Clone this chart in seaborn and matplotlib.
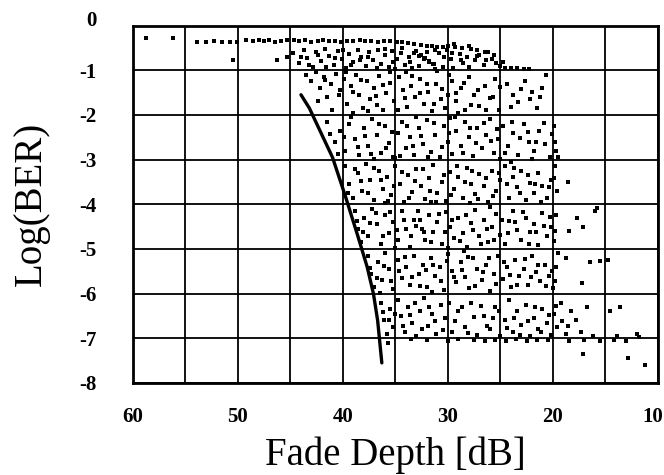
import matplotlib
matplotlib.use("Agg")
import matplotlib.pyplot as plt
import matplotlib.transforms as mtransforms
import seaborn as sns
import pandas as pd

# ---------------- data ----------------
# Fade depth [dB], log10(BER) of the measured points, grouped by band
band_top = [(58.8,-0.27),(56.2,-0.27),(53.9,-0.36),(53.0,-0.37),(52.3,-0.35),(51.5,-0.38),(50.8,-0.36),
            (50.1,-0.37),(49.2,-0.33),(48.6,-0.34),(48.0,-0.32),(47.5,-0.35),(47.0,-0.33),(46.5,-0.36),
            (45.9,-0.34),(45.3,-0.33),(44.7,-0.32),(44.2,-0.35),(43.6,-0.33),(43.0,-0.36),(42.4,-0.34),
            (41.9,-0.32),(41.3,-0.35),(40.8,-0.34),(40.2,-0.36),(39.6,-0.34),(39.0,-0.35),(38.4,-0.33),
            (37.9,-0.35),(37.3,-0.34),(36.7,-0.36),(36.1,-0.35),(35.5,-0.34),(34.9,-0.36),(34.4,-0.38),
            (33.8,-0.40),(33.2,-0.42),(32.6,-0.43),(32.0,-0.45),(31.5,-0.46),(31.0,-0.48),(30.5,-0.47),
            (30.0,-0.45),(29.4,-0.42),(28.7,-0.50),(28.0,-0.46),(27.2,-0.55),(26.5,-0.60)]
band_0_1 = [(50.5,-0.78),(46.3,-0.78),(45.3,-0.70),(44.8,-0.62),(44.2,-0.85),(43.7,-0.55),(43.4,-0.72),
            (42.9,-0.92),(42.6,-0.60),(42.1,-0.80),(41.7,-0.52),(41.3,-0.68),(40.9,-0.88),(40.5,-0.58),
            (40.1,-0.75),(39.7,-0.95),(39.4,-0.63),(39.0,-0.82),(38.6,-0.54),(38.3,-0.70),(37.8,-0.90),
            (37.5,-0.60),(37.1,-0.78),(36.7,-0.55),(36.4,-0.86),(36.0,-0.67),(35.6,-0.93),(35.3,-0.57),
            (34.9,-0.74),(34.5,-0.62),(34.1,-0.88),(33.7,-0.70),(33.0,-0.58),(32.6,-0.66),(32.2,-0.73),
            (31.8,-0.80),(31.4,-0.87),(30.9,-0.62),(30.5,-0.92),(30.1,-0.55),(29.7,-0.75),(29.3,-0.48),
            (28.9,-0.63),(28.6,-0.85),(28.2,-0.70),(27.8,-0.52),(27.4,-0.78),(27.0,-0.66),(26.6,-0.88),
            (26.2,-0.60),(25.8,-0.74),(25.4,-0.83),(25.0,-0.90),(24.6,-0.95),(24.0,-0.94),(23.4,-0.96),
            (22.8,-0.97),(22.3,-0.98),(29.5,-0.95),(31.2,-0.97),(33.4,-0.96),(35.0,-0.98),(33.2,-0.62),
            (32.8,-0.68),(32.3,-0.75),(31.8,-0.82),(31.3,-0.86)]
extra_0_1 = [(44.0,-0.70),(43.2,-0.88),(42.4,-0.65),(41.6,-0.92),(40.8,-0.72),(40.0,-0.55),(39.2,-0.88),
             (38.4,-0.78),(37.6,-0.70),(36.8,-0.95),(36.0,-0.52),(35.2,-0.82),(34.4,-0.50),(33.6,-0.82),
             (32.8,-0.90),(32.0,-0.60),(31.2,-0.55),(30.4,-0.70),(29.6,-0.62),(28.8,-0.78),(28.0,-0.92),
             (27.2,-0.68),(26.4,-0.78),(25.6,-0.65),(24.8,-0.82)]
band_1_2 = [(43.5,-1.10),(43.0,-1.25),(42.6,-1.05),(42.2,-1.40),(41.8,-1.15),(41.5,-1.60),(41.1,-1.30),
            (40.7,-1.08),(40.3,-1.45),(39.9,-1.20),(39.6,-1.75),(39.2,-1.35),(38.8,-1.10),(38.5,-1.55),
            (38.1,-1.85),(37.7,-1.25),(37.4,-1.65),(37.0,-1.40),(36.6,-1.12),(36.2,-1.90),(35.9,-1.50),
            (35.5,-1.28),(35.1,-1.70),(34.7,-1.15),(34.3,-1.45),(33.9,-1.82),(33.5,-1.35),(33.1,-1.60),
            (32.7,-1.20),(32.3,-1.75),(31.9,-1.48),(31.5,-1.92),(31.1,-1.30),(30.7,-1.65),(30.3,-1.85),
            (30.0,-1.55),(29.6,-1.25),(29.2,-1.70),(28.8,-1.40),(28.4,-1.90),(28.0,-1.15),(27.5,-1.55),
            (27.0,-1.80),(26.5,-1.35),(26.0,-1.62),(25.5,-1.20),(25.1,-1.88),(24.4,-1.30),(23.8,-1.55),
            (23.3,-1.72),(22.7,-1.25),(22.0,-1.48),(21.5,-1.85),(21.0,-1.40),(20.7,-1.10),(36.8,-1.78),
            (34.0,-1.05),(31.0,-1.02),(29.0,-1.95),(39.0,-1.95)]
extra_1_2 = [(42.4,-1.70),(41.7,-1.22),(41.0,-1.88),(40.4,-1.55),(39.7,-1.05),(39.0,-1.48),(38.3,-1.22),
             (37.6,-1.92),(36.9,-1.58),(36.2,-1.33),(35.5,-1.05),(34.8,-1.88),(34.1,-1.62),(33.4,-1.12),
             (32.7,-1.52),(32.0,-1.30),(31.3,-1.75),(30.6,-1.42),(29.9,-1.10),(29.2,-1.52),(28.5,-1.28),
             (27.8,-1.78),(27.1,-1.45),(26.4,-1.90),(25.7,-1.60),(25.0,-1.38),(24.0,-1.82),(23.0,-1.42),
             (22.2,-1.65),(21.2,-1.60)]
band_2_3 = [(41.5,-2.15),(40.8,-2.60),(40.3,-2.35),(39.8,-2.80),(39.4,-2.20),(38.9,-2.55),(38.5,-2.90),
            (38.0,-2.30),(37.6,-2.70),(37.2,-2.10),(36.8,-2.45),(36.4,-2.85),(36.0,-2.25),(35.6,-2.62),
            (35.2,-2.95),(34.8,-2.40),(34.4,-2.15),(34.0,-2.75),(33.6,-2.50),(33.2,-2.90),(32.8,-2.30),
            (32.4,-2.65),(32.0,-2.12),(31.6,-2.82),(31.2,-2.45),(30.8,-2.95),(30.4,-2.25),(30.0,-2.60),
            (29.6,-2.88),(29.2,-2.35),(28.8,-2.70),(28.4,-2.15),(28.0,-2.50),(27.6,-2.92),(27.2,-2.30),
            (26.8,-2.75),(26.4,-2.45),(26.0,-2.10),(25.6,-2.85),(25.2,-2.55),(24.8,-2.25),(24.3,-2.70),
            (23.8,-2.40),(23.3,-2.90),(22.8,-2.20),(22.3,-2.60),(21.8,-2.80),(21.3,-2.35),(20.8,-2.65),
            (20.3,-2.95),(19.8,-2.60),(19.7,-2.80),(19.9,-2.25),(19.5,-2.95),(37.0,-2.98),(33.0,-2.05),
            (29.8,-2.08),(25.0,-2.98),(22.0,-2.98),(35.0,-2.97)]
extra_2_3 = [(41.2,-2.42),(40.5,-2.88),(39.9,-2.50),(39.2,-2.05),(38.6,-2.72),(37.9,-2.48),(37.3,-2.88),
             (36.6,-2.20),(35.9,-2.75),(35.3,-2.38),(34.6,-2.92),(33.9,-2.25),(33.3,-2.70),(32.6,-2.48),
             (31.9,-2.95),(31.3,-2.18),(30.6,-2.72),(29.9,-2.40),(29.3,-2.05),(28.6,-2.85),(27.9,-2.30),
             (27.3,-2.62),(26.6,-2.18),(25.9,-2.58),(25.3,-2.32),(24.6,-2.85),(23.9,-2.15),(23.1,-2.52),
             (22.4,-2.38),(21.6,-2.60),(20.9,-2.18),(20.1,-2.42)]
band_3_4 = [(39.8,-3.15),(39.4,-3.55),(39.0,-3.85),(38.6,-3.30),(38.2,-3.70),(37.8,-3.10),(37.4,-3.45),
            (37.0,-3.90),(36.6,-3.25),(36.2,-3.65),(35.8,-3.40),(35.4,-3.80),(35.0,-3.15),(34.6,-3.55),
            (34.2,-3.95),(33.8,-3.35),(33.4,-3.72),(33.0,-3.20),(32.6,-3.60),(32.2,-3.88),(31.8,-3.42),
            (31.4,-3.12),(31.0,-3.75),(30.6,-3.50),(30.2,-3.92),(29.8,-3.28),(29.4,-3.65),(29.0,-3.40),
            (28.6,-3.85),(28.2,-3.18),(27.8,-3.55),(27.4,-3.78),(27.0,-3.32),(26.6,-3.60),(26.2,-3.95),
            (25.8,-3.25),(25.4,-3.70),(25.0,-3.45),(24.6,-3.15),(24.2,-3.85),(23.8,-3.40),(23.4,-3.62),
            (23.0,-3.25),(22.6,-3.90),(22.2,-3.52),(21.8,-3.75),(21.4,-3.30),(21.0,-3.60),(20.6,-3.85),
            (20.2,-3.45),(19.8,-3.15),(19.6,-3.70),(18.6,-3.50),(36.0,-3.98),(31.6,-3.96),(24.0,-3.05),
            (27.9,-3.98)]
extra_3_4 = [(39.5,-3.75),(38.9,-3.22),(38.3,-3.48),(37.6,-3.75),(37.0,-3.18),(36.4,-3.45),(35.7,-3.92),
             (35.1,-3.60),(34.4,-3.28),(33.7,-3.85),(33.1,-3.48),(32.4,-3.22),(31.7,-3.70),(31.1,-3.95),
             (30.4,-3.35),(29.7,-3.80),(29.1,-3.15),(28.4,-3.50),(27.7,-3.25),(27.1,-3.88),(26.4,-3.42),
             (25.7,-3.82),(25.1,-3.30),(24.4,-3.55),(23.7,-3.18),(23.1,-3.75),(22.4,-3.35),(21.7,-3.55),
             (21.1,-3.95),(20.4,-3.62),(19.9,-3.42)]
band_4_5 = [(38.9,-4.15),(38.6,-4.55),(38.3,-4.85),(38.0,-4.30),(37.6,-4.70),(37.2,-4.10),(36.8,-4.45),
            (36.4,-4.90),(36.0,-4.25),(35.6,-4.65),(35.2,-4.40),(34.8,-4.80),(34.4,-4.15),(34.0,-4.55),
            (33.6,-4.95),(33.2,-4.35),(32.9,-4.15),(32.7,-4.35),(32.5,-4.55),(32.2,-4.80),(31.8,-4.25),
            (31.4,-4.62),(31.0,-4.40),(30.6,-4.88),(30.2,-4.18),(29.8,-4.52),(29.4,-4.75),(29.0,-4.30),
            (28.6,-4.65),(28.2,-4.95),(27.8,-4.42),(27.4,-4.12),(27.0,-4.70),(26.6,-4.35),(26.2,-4.85),
            (25.8,-4.50),(25.4,-4.22),(25.0,-4.68),(24.6,-4.90),(24.2,-4.38),(23.8,-4.15),(23.4,-4.58),
            (23.0,-4.80),(22.6,-4.30),(22.2,-4.62),(21.8,-4.45),(21.4,-4.92),(21.0,-4.20),(20.6,-4.70),
            (20.2,-4.50),(19.9,-4.82),(19.7,-4.25),(18.5,-4.60),(17.7,-4.30),(17.1,-4.50),(16.0,-4.15),
            (15.8,-4.08),(35.0,-4.98),(30.0,-4.98),(26.0,-4.06)]
extra_4_5 = [(38.7,-4.38),(38.1,-4.62),(37.4,-4.42),(36.9,-4.20),(36.2,-4.72),(35.5,-4.18),(34.9,-4.58),
             (34.2,-4.35),(33.5,-4.72),(33.0,-4.48),(32.3,-4.62),(31.6,-4.85),(30.9,-4.22),(30.3,-4.62),
             (29.6,-4.35),(28.9,-4.82),(28.3,-4.25),(27.6,-4.58),(26.9,-4.90),(26.3,-4.55),(25.6,-4.80),
             (24.9,-4.35),(24.3,-4.65),(23.6,-4.40),(22.9,-4.18),(22.3,-4.88),(21.6,-4.62),(20.9,-4.48),
             (20.3,-4.28),(19.8,-4.60)]
band_5_6 = [(37.6,-5.15),(37.3,-5.55),(37.0,-5.85),(36.7,-5.30),(36.3,-5.70),(36.0,-5.10),(35.6,-5.45),
            (35.2,-5.90),(34.8,-5.25),(34.4,-5.65),(34.0,-5.40),(33.6,-5.80),(33.2,-5.15),(32.8,-5.55),
            (32.4,-5.35),(32.0,-5.85),(31.6,-5.20),(31.2,-5.60),(30.8,-5.40),(30.4,-5.92),(30.0,-5.12),
            (29.6,-5.50),(29.2,-5.75),(28.8,-5.30),(28.4,-5.62),(28.0,-5.88),(27.6,-5.20),(27.2,-5.45),
            (26.8,-5.70),(26.4,-5.35),(26.0,-5.95),(25.6,-5.55),(25.2,-5.15),(24.8,-5.68),(24.4,-5.40),
            (24.0,-5.85),(23.6,-5.25),(23.2,-5.60),(22.8,-5.45),(22.4,-5.80),(22.0,-5.15),(21.6,-5.52),
            (21.2,-5.72),(20.8,-5.35),(20.4,-5.60),(20.0,-5.88),(19.7,-5.40),(19.5,-5.10),(18.8,-5.20),
            (17.2,-5.77),(16.5,-5.30),(15.5,-5.28),(14.8,-5.25),(31.5,-5.97),(36.5,-5.98),(28.5,-5.05)]
extra_5_6 = [(37.4,-5.42),(36.8,-5.65),(36.1,-5.38),(35.4,-5.72),(34.7,-5.50),(34.1,-5.18),(33.4,-5.62),
             (32.7,-5.82),(32.1,-5.48),(31.4,-5.35),(30.7,-5.72),(30.1,-5.28),(29.4,-5.62),(28.7,-5.48),
             (28.1,-5.18),(27.4,-5.82),(26.7,-5.52),(26.1,-5.20),(25.4,-5.78),(24.7,-5.30),(24.1,-5.58),
             (23.4,-5.80),(22.7,-5.22),(22.1,-5.62),(21.4,-5.35),(20.7,-5.82),(20.1,-5.50),(19.8,-5.72)]
band_6_7 = [(36.4,-6.20),(36.1,-6.60),(35.8,-6.90),(35.5,-6.35),(35.2,-6.75),(34.8,-6.15),(34.5,-6.50),
            (34.1,-6.85),(33.8,-6.30),(33.4,-6.65),(33.0,-6.95),(32.7,-6.40),(32.3,-6.10),(31.9,-6.72),
            (31.5,-6.45),(31.1,-6.90),(30.7,-6.25),(30.3,-6.55),(29.6,-6.85),(29.0,-6.40),(28.4,-6.75),
            (27.8,-6.20),(27.2,-6.92),(26.6,-6.50),(26.0,-6.80),(25.5,-6.30),(25.0,-6.95),(24.6,-6.60),
            (24.2,-6.15),(23.8,-6.85),(23.4,-6.40),(23.0,-6.70),(22.6,-6.25),(22.2,-6.95),(21.8,-6.55),
            (21.4,-6.80),(21.0,-6.35),(20.6,-6.65),(20.2,-6.92),(19.9,-6.45),(19.6,-6.75),(19.2,-6.20),
            (18.8,-6.90),(18.3,-6.40),(17.8,-6.60),(17.3,-6.85),(16.8,-6.30),(16.2,-6.95),(14.6,-6.40),
            (13.6,-6.30),(13.9,-6.95),(12.0,-6.90),(11.8,-6.97),
            (33.5,-7.02),(32.0,-7.03),(30.0,-7.05),(29.0,-7.02),(27.5,-7.04),(26.5,-7.06),(25.5,-7.03),
            (24.5,-7.05),(23.5,-7.02),(22.5,-7.06),(21.5,-7.04),(20.5,-7.03),(18.5,-7.05),(17.0,-7.04),
            (15.5,-7.06),(14.2,-7.04),(13.0,-7.05)]
extra_6_7 = [(36.2,-6.42),(35.6,-6.58),(35.0,-6.45),(34.3,-6.72),(33.6,-6.48),(33.1,-6.22),(32.5,-6.80),
             (31.8,-6.30),(31.2,-6.62),(30.5,-6.82),(29.9,-6.20),(29.3,-6.62),(28.7,-6.30),(28.1,-6.88),
             (27.5,-6.52),(26.9,-6.28),(26.3,-6.72),(25.7,-6.55),(25.1,-6.38),(24.4,-6.78),(23.7,-6.55),
             (23.1,-6.92),(22.4,-6.62),(21.7,-6.30),(21.1,-6.85),(20.4,-6.48),(19.7,-6.28),(19.1,-6.62),
             (18.6,-6.72)]
band_low = [(35.7,-7.10),(17.1,-7.36),(12.9,-7.45),(11.2,-7.60)]

# theoretical curve
curve_fade = [44.0, 43.2, 42.5, 41.7, 41.0, 39.8, 38.6, 37.7, 37.1, 36.7, 36.3]
curve_logber = [-1.55, -1.85, -2.2, -2.6, -2.95, -3.8, -4.7, -5.4, -6.0, -6.6, -7.55]

x_ticks = [60, 50, 40, 30, 20, 10]
y_ticks = [0, -1, -2, -3, -4, -5, -6, -7, -8]

# ---------------- plotting ----------------
pts = (band_top + band_0_1 + extra_0_1 + band_1_2 + extra_1_2 + band_2_3 + extra_2_3
       + band_3_4 + extra_3_4 + band_4_5 + extra_4_5 + band_5_6 + extra_5_6
       + band_6_7 + extra_6_7 + band_low)
df = pd.DataFrame(pts, columns=["fade", "logber"])
cdf = pd.DataFrame({"fade": curve_fade, "logber": curve_logber})

sns.set_theme(style="white")
plt.rcParams["font.family"] = ["Liberation Serif", "DejaVu Serif"]

fig = plt.figure(figsize=(6.64, 4.75), dpi=100)
ax = fig.add_axes([0.2003, 0.1937, 0.7906, 0.7526])

ax.set_xlim(60, 10)
ax.set_ylim(-8, 0)
ax.set_xticks(x_ticks)
ax.set_xticks([55, 45, 35, 25, 15], minor=True)
ax.set_yticks(y_ticks)
ax.grid(True, which="both", color="black", linewidth=1.3)
ax.set_axisbelow(True)

sns.scatterplot(data=df, x="fade", y="logber", ax=ax, color="black", marker="s",
                s=7, linewidth=0, zorder=3)
sns.lineplot(data=cdf, x="fade", y="logber", ax=ax, sort=False, color="black",
             linewidth=2.4, zorder=4)

for sp in ax.spines.values():
    sp.set_visible(True)
    sp.set_color("black")
    sp.set_linewidth(2.0)

ax.set_xticklabels([str(v) for v in x_ticks], fontsize=15, fontweight="bold")
ax.set_yticklabels([str(v) for v in y_ticks], fontsize=15, fontweight="bold")
ax.tick_params(axis="x", which="both", length=0, pad=17, colors="black")
ax.tick_params(axis="y", which="both", length=0, pad=26, colors="black")

# the "10" label sits flush with the right edge, the "0" label slightly raised
last = ax.get_xticklabels()[-1]
last.set_horizontalalignment("right")
last.set_transform(last.get_transform() + mtransforms.ScaledTranslation(5 / 100, 0, fig.dpi_scale_trans))
first_y = ax.get_yticklabels()[0]
first_y.set_transform(first_y.get_transform() + mtransforms.ScaledTranslation(0, 7 / 100, fig.dpi_scale_trans))

ax.set_xlabel("Fade Depth [dB]", fontsize=28, color="black")
ax.set_ylabel("Log(BER)", fontsize=28, color="black")
ax.xaxis.set_label_coords(0.5, -0.150)
ax.yaxis.set_label_coords(-0.158, 0.5)

fig.savefig("out.png", dpi=100, facecolor="white")
